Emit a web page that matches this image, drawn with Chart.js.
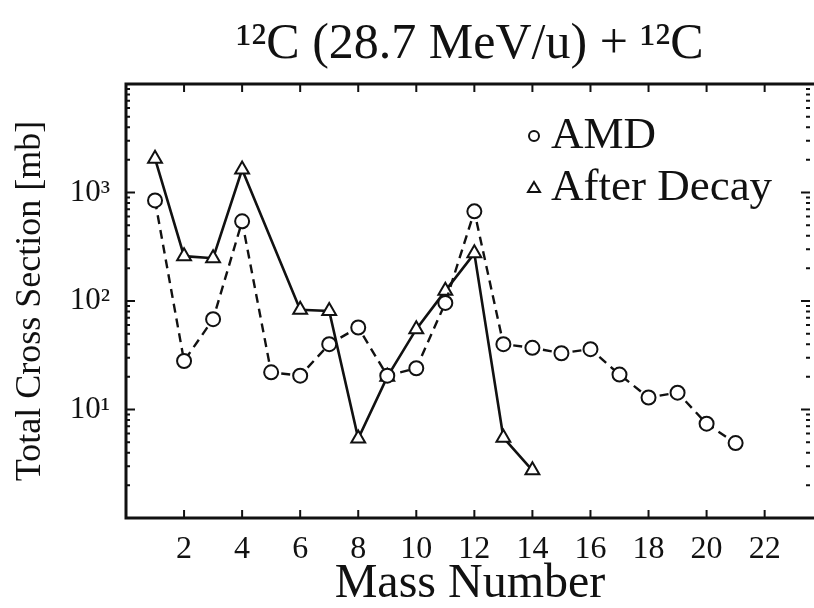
<!DOCTYPE html>
<html>
<head>
<meta charset="utf-8">
<script src="https://cdn.jsdelivr.net/npm/chart.js@4.4.1/dist/chart.umd.min.js"></script>
<style>
  html, body { margin: 0; padding: 0; background: #fff; }
</style>
</head>
<body>
<canvas id="xsecChart" width="814" height="608"></canvas>
<script>
// AMD (primary fragments) vs. after statistical decay
const massAmd = [1, 2, 3, 4, 5, 6, 7, 8, 9, 10, 11, 12, 13, 14, 15, 16, 17, 18, 19, 20, 21];
const xsecAmd = [845, 28, 68, 542, 22, 20.5, 40, 57, 20.5, 24, 96, 670, 40, 37, 33, 36, 21, 12.9, 14.3, 7.4, 4.9];

const massDecay = [1, 2, 3, 4, 6, 7, 8, 9, 10, 11, 12, 13, 14];
const xsecDecay = [2050, 259, 248, 1630, 83, 81, 5.4, 20, 55, 124, 275, 5.5, 2.75];

const xTicks = [2, 4, 6, 8, 10, 12, 14, 16, 18, 20, 22];
const yTicks = [10, 100, 1000];
const supers = { 1: "\u00b9", 2: "\u00b2", 3: "\u00b3" };

const serif = "'Liberation Serif', 'DejaVu Serif', serif";
const ink = "#111";

function toPoints(xs, ys) {
  return xs.map((x, i) => ({ x: x, y: ys[i] }));
}

// frame, inward tick marks and the in-plot legend
const framePlugin = {
  id: "framePlugin",
  afterDatasetsDraw(chart) {
    const { ctx, chartArea: a, scales } = chart;
    ctx.save();
    ctx.strokeStyle = ink;
    ctx.lineWidth = 3;
    ctx.beginPath();
    ctx.moveTo(a.right, a.top);
    ctx.lineTo(a.left, a.top);
    ctx.lineTo(a.left, a.bottom);
    ctx.lineTo(a.right, a.bottom);
    ctx.stroke();

    ctx.lineWidth = 2;
    ctx.beginPath();
    xTicks.forEach(v => {
      const px = scales.x.getPixelForValue(v);
      ctx.moveTo(px, a.bottom); ctx.lineTo(px, a.bottom - 8);
      ctx.moveTo(px, a.top); ctx.lineTo(px, a.top + 8);
    });
    for (let d = 1; d < 10000; d *= 10) {
      for (let m = 1; m < 10; m++) {
        const py = scales.y.getPixelForValue(d * m);
        const len = m === 1 ? 9 : 4;
        ctx.moveTo(a.left, py); ctx.lineTo(a.left + len, py);
        ctx.moveTo(a.right - 4, py); ctx.lineTo(a.right - 4 - len, py);
      }
    }
    ctx.stroke();

    // legend
    const lx = a.right - 280;
    ctx.fillStyle = "#fff";
    ctx.lineWidth = 2;
    ctx.beginPath();
    ctx.arc(lx, 136, 5, 0, Math.PI * 2);
    ctx.fill(); ctx.stroke();
    ctx.beginPath();
    ctx.moveTo(lx, 182); ctx.lineTo(lx + 6, 192); ctx.lineTo(lx - 6, 192); ctx.closePath();
    ctx.fill(); ctx.stroke();

    ctx.fillStyle = ink;
    ctx.font = "45px " + serif;
    ctx.textBaseline = "alphabetic";
    ctx.fillText("AMD", lx + 17, 148);
    ctx.fillText("After Decay", lx + 17, 200);
    ctx.restore();
  }
};

const ctx = document.getElementById("xsecChart").getContext("2d");
new Chart(ctx, {
  type: "line",
  data: {
    datasets: [
      {
        label: "AMD",
        data: toPoints(massAmd, xsecAmd),
        borderColor: ink,
        borderWidth: 2.4,
        borderDash: [9, 6],
        pointStyle: "circle",
        pointRadius: 7,
        pointBorderWidth: 2,
        pointBorderColor: ink,
        pointBackgroundColor: "#fff"
      },
      {
        label: "After Decay",
        data: toPoints(massDecay, xsecDecay),
        borderColor: ink,
        borderWidth: 2.6,
        pointStyle: "triangle",
        pointRadius: 8,
        pointBorderWidth: 2,
        pointBorderColor: ink,
        pointBackgroundColor: "#fff"
      }
    ]
  },
  options: {
    responsive: false,
    animation: false,
    layout: { padding: 0, autoPadding: false },
    plugins: {
      legend: { display: false },
      tooltip: { enabled: false },
      title: {
        display: true,
        fullSize: false,
        text: "\u00b9\u00b2C (28.7 MeV/u) + \u00b9\u00b2C",
        color: ink,
        font: { family: serif, size: 50, weight: "normal", lineHeight: 1.1 },
        padding: { top: 17, bottom: 12 }
      }
    },
    scales: {
      x: {
        type: "linear",
        min: 0,
        max: 23.7,
        afterBuildTicks: s => { s.ticks = xTicks.map(v => ({ value: v })); },
        afterFit: s => { s.height = 90; },
        ticks: {
          color: ink,
          autoSkip: false,
          maxRotation: 0,
          padding: 4,
          font: { family: serif, size: 32 },
          callback: v => String(v)
        },
        grid: { display: false },
        border: { display: false },
        title: {
          display: true,
          text: "Mass Number",
          color: ink,
          font: { family: serif, size: 48, lineHeight: 1 },
          padding: { top: 0, bottom: 0 }
        }
      },
      y: {
        type: "logarithmic",
        min: 1,
        max: 10000,
        afterBuildTicks: s => { s.ticks = yTicks.map(v => ({ value: v })); },
        afterFit: s => { s.width = 126; },
        ticks: {
          color: ink,
          autoSkip: false,
          padding: 8,
          font: { family: serif, size: 31 },
          callback: v => "10" + supers[Math.round(Math.log10(v))]
        },
        grid: { display: false },
        border: { display: false },
        title: {
          display: true,
          text: "Total Cross Section [mb]",
          color: ink,
          font: { family: serif, size: 36 },
          padding: { top: 9, bottom: 0 }
        }
      }
    }
  },
  plugins: [framePlugin]
});
</script>
</body>
</html>
